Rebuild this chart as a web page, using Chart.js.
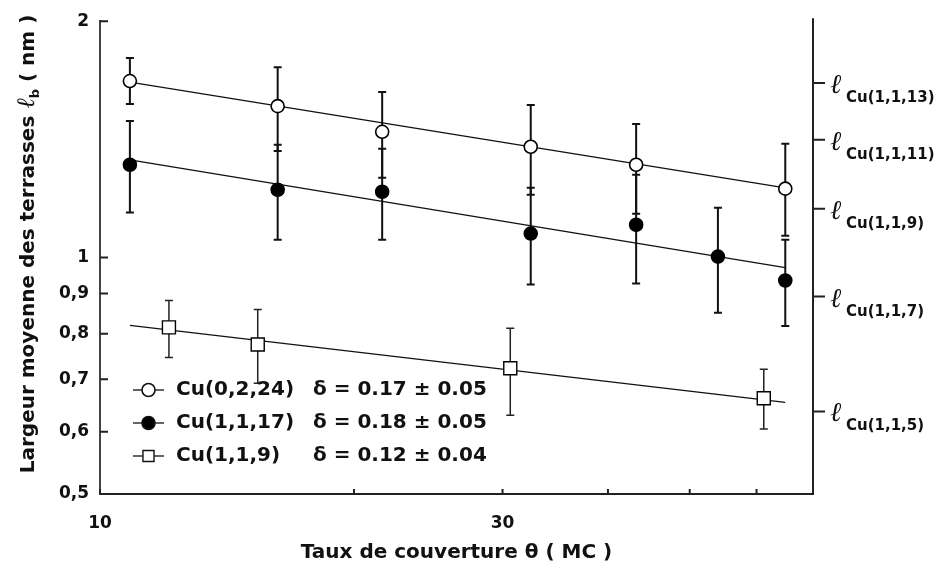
<!DOCTYPE html>
<html>
<head>
<meta charset="utf-8">
<script src="https://cdn.jsdelivr.net/npm/chart.js@4.4.0/dist/chart.umd.min.js"></script>
<style>
  html, body { margin: 0; padding: 0; background: #fff; }
  canvas { display: block; }
</style>
</head>
<body>
<canvas id="cv" width="938" height="572"></canvas>
<script>
// ===== terrace widths vs coverage (log-log) =====
const FONT = '"DejaVu Sans", sans-serif';

// axes
const xTicks = [10, 20, 30, 40, 50, 60];
const xLabels = ['10', '', '30', '', '', ''];
const yTicks = [0.5, 0.6, 0.7, 0.8, 0.9, 1, 2];
const yLabels = ['0,5', '0,6', '0,7', '0,8', '0,9', '1', '2'];
const rightTicks = [0.637, 0.892, 1.154, 1.413, 1.668];
const rightNames = ['Cu(1,1,5)', 'Cu(1,1,7)', 'Cu(1,1,9)', 'Cu(1,1,11)', 'Cu(1,1,13)'];

// Cu(0,2,24) - open circles
const xOpen  = [10.85, 16.24, 21.6, 32.4, 43.2, 64.9];
const yOpen  = [1.678, 1.559, 1.446, 1.384, 1.313, 1.224];
const hiOpen = [1.795, 1.748, 1.625, 1.564, 1.480, 1.396];
const loOpen = [1.569, 1.367, 1.264, 1.202, 1.137, 1.066];

// Cu(1,1,17) - filled circles
const xFilled  = [10.85, 16.24, 21.6, 32.4, 43.2, 54.0, 64.9];
const yFilled  = [1.313, 1.220, 1.213, 1.073, 1.101, 1.003, 0.935];
const hiFilled = [1.493, 1.392, 1.376, 1.227, 1.275, 1.157, 1.054];
const loFilled = [1.141, 1.054, 1.054, 0.924, 0.927, 0.851, 0.818];

// Cu(1,1,9) - open squares
const xSquare  = [12.07, 15.38, 30.64, 61.2];
const ySquare  = [0.815, 0.775, 0.723, 0.662];
const hiSquare = [0.882, 0.859, 0.813, 0.721];
const loSquare = [0.746, 0.692, 0.630, 0.605];

// power-law fits (end points)
const fitX = [10.85, 64.9];
const fitOpen = [1.673, 1.227];
const fitFilled = [1.332, 0.971];
const fitSquare = [0.820, 0.654];

const legendNames = ['Cu(0,2,24)', 'Cu(1,1,17)', 'Cu(1,1,9)'];
const legendDelta = ['\u03B4 = 0.17 \u00B1 0.05', '\u03B4 = 0.18 \u00B1 0.05', '\u03B4 = 0.12 \u00B1 0.04'];

const pts = (xs, ys) => xs.map((v, i) => ({ x: v, y: ys[i] }));

const MARKERS = [
  { style: 'circle', radius: 6.5, fill: '#fff', border: 1.6 },
  { style: 'circle', radius: 6.5, fill: '#000', border: 1.6 },
  { style: 'rect', radius: 9.2, fill: '#fff', border: 1.4 }
];

const ERR = [
  { xs: xOpen, hi: hiOpen, lo: loOpen, width: 2, color: '#111' },
  { xs: xFilled, hi: hiFilled, lo: loFilled, width: 2, color: '#111' },
  { xs: xSquare, hi: hiSquare, lo: loSquare, width: 1.5, color: '#222' }
];

const errBars = {
  id: 'errBars',
  beforeDatasetsDraw(chart) {
    const { ctx, scales: { x, y } } = chart;
    ERR.forEach(s => {
      ctx.save();
      ctx.strokeStyle = s.color; ctx.lineWidth = s.width;
      s.xs.forEach((xv, i) => {
        const px = x.getPixelForValue(xv);
        const top = y.getPixelForValue(s.hi[i]), bot = y.getPixelForValue(s.lo[i]);
        ctx.beginPath();
        ctx.moveTo(px, top); ctx.lineTo(px, bot);
        ctx.moveTo(px - 4, top); ctx.lineTo(px + 4, top);
        ctx.moveTo(px - 4, bot); ctx.lineTo(px + 4, bot);
        ctx.stroke();
      });
      ctx.restore();
    });
  }
};

const ELL = 'italic 27px "DejaVu Serif", serif';

const decor = {
  id: 'decor',
  afterDraw(chart) {
    const { ctx, chartArea: ca, scales: { x, y, y2 } } = chart;
    ctx.save();
    ctx.strokeStyle = '#222'; ctx.lineWidth = 2;
    // inward ticks
    ctx.beginPath();
    x.ticks.forEach(t => { const px = x.getPixelForValue(t.value); ctx.moveTo(px, ca.bottom); ctx.lineTo(px, ca.bottom - 5); });
    y.ticks.forEach(t => { const py = y.getPixelForValue(t.value); ctx.moveTo(ca.left, py); ctx.lineTo(ca.left + 8, py); });
    ctx.stroke();
    // right axis
    ctx.beginPath();
    ctx.moveTo(ca.right, ca.top - 3); ctx.lineTo(ca.right, ca.bottom + 1);
    y2.ticks.forEach(t => { const py = y2.getPixelForValue(t.value); ctx.moveTo(ca.right, py); ctx.lineTo(ca.right + 12, py); });
    ctx.stroke();
    ctx.fillStyle = '#111';
    ctx.textAlign = 'left'; ctx.textBaseline = 'alphabetic';
    rightTicks.forEach((v, i) => {
      const py = y2.getPixelForValue(v);
      ctx.font = ELL;
      ctx.fillText('\u2113', ca.right + 17, py + 10);
      ctx.font = 'bold 15px ' + FONT;
      ctx.fillText(rightNames[i], ca.right + 33, py + 19);
    });

    // y title with subscript
    const parts = [
      { t: 'Largeur moyenne des terrasses ', f: 'bold 20px ' + FONT, dy: 0 },
      { t: '\u2113', f: 'italic 25px "DejaVu Serif", serif', dy: 0 },
      { t: 'b', f: 'bold 13px ' + FONT, dy: 5 },
      { t: ' ( nm )', f: 'bold 20px ' + FONT, dy: 0 }
    ];
    let total = 0;
    parts.forEach(p => { ctx.font = p.f; p.w = ctx.measureText(p.t).width; total += p.w; });
    ctx.translate(27, 244); ctx.rotate(-Math.PI / 2);
    let cx = -total / 2;
    parts.forEach(p => { ctx.font = p.f; ctx.fillText(p.t, cx, 7 + p.dy); cx += p.w; });
    ctx.restore();

    // legend
    ctx.save();
    const rows = [390, 423, 456];
    rows.forEach((ry, i) => {
      const m = MARKERS[i];
      ctx.strokeStyle = '#111'; ctx.lineWidth = 1.3;
      ctx.beginPath(); ctx.moveTo(133, ry); ctx.lineTo(164, ry); ctx.stroke();
      ctx.fillStyle = m.fill; ctx.lineWidth = m.border;
      Chart.helpers.drawPoint(ctx, { pointStyle: m.style, radius: m.radius * (i === 2 ? 0.85 : 1), rotation: 0, borderWidth: m.border }, 148.5, ry);
      ctx.fillStyle = '#111';
      ctx.font = 'bold 20px ' + FONT; ctx.textBaseline = 'middle';
      ctx.fillText(legendNames[i], 176, ry);
      ctx.fillText(legendDelta[i], 313, ry);
    });
    ctx.restore();
  }
};

const markerSet = (label, xs, ys, m) => ({
  label, data: pts(xs, ys), showLine: false,
  pointStyle: m.style, pointRadius: m.radius, pointHoverRadius: m.radius,
  pointBackgroundColor: m.fill, pointBorderColor: '#000', pointBorderWidth: m.border
});
const fitSet = (ys) => ({
  data: pts(fitX, ys), showLine: true, pointRadius: 0, borderColor: '#111', borderWidth: 1.3, fill: false
});

new Chart(document.getElementById('cv'), {
  type: 'scatter',
  data: {
    datasets: [
      markerSet('Cu(0,2,24)', xOpen, yOpen, MARKERS[0]),
      markerSet('Cu(1,1,17)', xFilled, yFilled, MARKERS[1]),
      markerSet('Cu(1,1,9)', xSquare, ySquare, MARKERS[2]),
      fitSet(fitOpen), fitSet(fitFilled), fitSet(fitSquare)
    ]
  },
  options: {
    responsive: false, animation: false,
    layout: { padding: { top: 19, left: 0, right: 0, bottom: 0 } },
    plugins: { legend: { display: false }, tooltip: { enabled: false } },
    scales: {
      x: {
        type: 'logarithmic', min: 10, max: 70, position: 'bottom',
        grid: { display: false, drawTicks: false },
        border: { display: true, color: '#222', width: 2 },
        afterBuildTicks: s => { s.ticks = xTicks.map(v => ({ value: v })); },
        afterFit: s => { s.height = 78; },
        ticks: {
          autoSkip: false, maxRotation: 0, padding: 19, color: '#111',
          font: { family: FONT, weight: 'bold', size: 17 },
          callback: v => { const i = xTicks.indexOf(v); return i >= 0 ? xLabels[i] : ''; }
        },
        title: {
          display: true, text: 'Taux de couverture \u03B8 ( MC )', color: '#111',
          font: { family: FONT, weight: 'bold', size: 20 }, padding: { top: 0, bottom: 7 }
        }
      },
      y: {
        type: 'logarithmic', min: 0.5, max: 2, position: 'left',
        grid: { display: false, drawTicks: false },
        border: { display: true, color: '#444', width: 2 },
        afterBuildTicks: s => { s.ticks = yTicks.map(v => ({ value: v })); },
        afterFit: s => { s.width = 100; },
        ticks: {
          autoSkip: false, padding: 11, color: '#111',
          font: { family: FONT, weight: 'bold', size: 17 },
          callback: v => { const i = yTicks.indexOf(v); return i >= 0 ? yLabels[i] : ''; }
        }
      },
      y2: {
        type: 'logarithmic', min: 0.5, max: 2, position: 'right',
        grid: { display: false, drawTicks: false },
        border: { display: false },
        afterBuildTicks: s => { s.ticks = rightTicks.map(v => ({ value: v })); },
        afterFit: s => { s.width = 125; },
        ticks: { display: false }
      }
    }
  },
  plugins: [errBars, decor]
});
</script>
</body>
</html>
